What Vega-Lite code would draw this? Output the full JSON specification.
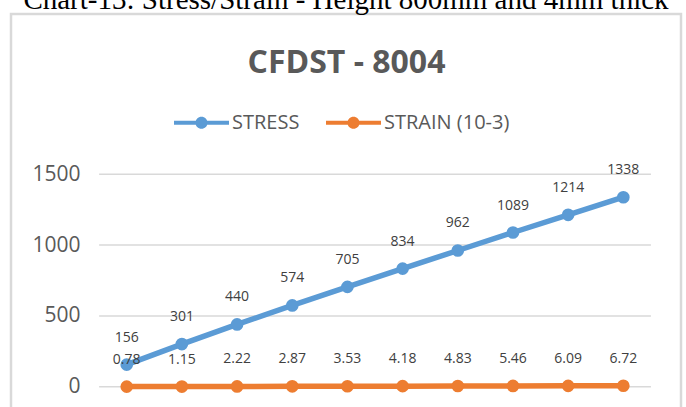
{
  "$schema": "https://vega.github.io/schema/vega-lite/v6.json",
  "width": 670,
  "height": 406,
  "autosize": "none",
  "padding": {"left": 11, "top": 14, "right": 5, "bottom": 0},
  "background": "white",
  "config": {"view": {"stroke": "#d9d9d9", "strokeWidth": 2.5}, "font": "Open Sans"},
  "title": {"text": "Chart-13: Stress/Strain - Height 800mm and 4mm thick", "offset": 5, "dy": 29, "baseline": "alphabetic", "fontSize": 29, "fontWeight": "normal", "color": "#000000", "font": "Liberation Serif", "anchor": "middle", "frame": "group"},
  "datasets": {
    "grid": [{"g": 0}, {"g": 500}, {"g": 1000}, {"g": 1500}],
    "main": [
      {"n": 1, "series": "STRESS", "value": 156},
      {"n": 2, "series": "STRESS", "value": 301},
      {"n": 3, "series": "STRESS", "value": 440},
      {"n": 4, "series": "STRESS", "value": 574},
      {"n": 5, "series": "STRESS", "value": 705},
      {"n": 6, "series": "STRESS", "value": 834},
      {"n": 7, "series": "STRESS", "value": 962},
      {"n": 8, "series": "STRESS", "value": 1089},
      {"n": 9, "series": "STRESS", "value": 1214},
      {"n": 10, "series": "STRESS", "value": 1338},
      {"n": 1, "series": "STRAIN (10-3)", "value": 0.78},
      {"n": 2, "series": "STRAIN (10-3)", "value": 1.15},
      {"n": 3, "series": "STRAIN (10-3)", "value": 2.22},
      {"n": 4, "series": "STRAIN (10-3)", "value": 2.87},
      {"n": 5, "series": "STRAIN (10-3)", "value": 3.53},
      {"n": 6, "series": "STRAIN (10-3)", "value": 4.18},
      {"n": 7, "series": "STRAIN (10-3)", "value": 4.83},
      {"n": 8, "series": "STRAIN (10-3)", "value": 5.46},
      {"n": 9, "series": "STRAIN (10-3)", "value": 6.09},
      {"n": 10, "series": "STRAIN (10-3)", "value": 6.72}
    ]
  },
  "layer": [
    {
      "data": {"name": "grid"},
      "mark": {"type": "rule", "color": "#d9d9d9", "strokeWidth": 1.5},
      "encoding": {
        "y": {"field": "g", "type": "quantitative", "title": null},
        "x": {"datum": 0.5, "type": "quantitative"},
        "x2": {"datum": 10.5}
      }
    },
    {
      "data": {"name": "main"},
      "mark": {"type": "line", "strokeWidth": 5.5},
      "encoding": {
        "x": {"field": "n", "type": "quantitative",
          "scale": {"domain": [-1.097, 11.045], "nice": false, "zero": false},
          "axis": {"orient": "top", "labels": false, "ticks": false, "domain": false, "grid": false,
            "title": "CFDST - 8004",
            "titleY": 58, "titleBaseline": "alphabetic", "titleFont": "Open Sans", "titleFontSize": 32, "titleFontWeight": "bold", "titleColor": "#595959"}},
        "y": {"field": "value", "type": "quantitative", "title": null,
          "scale": {"domain": [-235, 2632], "nice": false, "zero": false},
          "axis": {"values": [0, 500, 1000, 1500], "format": "d", "grid": false, "domain": false, "ticks": false, "offset": -72, "labelPadding": 3, "labelFontSize": 21, "labelColor": "#595959", "labelFont": "Open Sans"}},
        "color": {"field": "series", "type": "nominal",
          "scale": {"domain": ["STRESS", "STRAIN (10-3)"], "range": ["#5b9bd5", "#ed7d31"]},
          "legend": {"orient": "none", "legendX": 163, "legendY": 81, "direction": "horizontal", "title": null,
            "symbolType": "M-1,-0.075L1,-0.075L1,0.075L-1,0.075Z M0.22,0A0.22,0.22 0 1,1 -0.22,0A0.22,0.22 0 1,1 0.22,0Z",
            "symbolSize": 3025, "symbolStrokeWidth": 0, "symbolOpacity": 1, "labelFontSize": 20, "labelColor": "#595959", "labelFont": "Open Sans", "columnPadding": 26, "labelOffset": 3}}
      }
    },
    {
      "data": {"name": "main"},
      "mark": {"type": "circle", "size": 160, "opacity": 1},
      "encoding": {
        "x": {"field": "n", "type": "quantitative"},
        "y": {"field": "value", "type": "quantitative", "title": null},
        "color": {"field": "series", "type": "nominal"}
      }
    },
    {
      "data": {"name": "main"},
      "mark": {"type": "text", "dy": -27, "fontSize": 14, "color": "#404040", "font": "Open Sans", "baseline": "middle"},
      "encoding": {
        "x": {"field": "n", "type": "quantitative"},
        "y": {"field": "value", "type": "quantitative", "title": null},
        "text": {"field": "value", "type": "nominal"}
      }
    }
  ]
}
